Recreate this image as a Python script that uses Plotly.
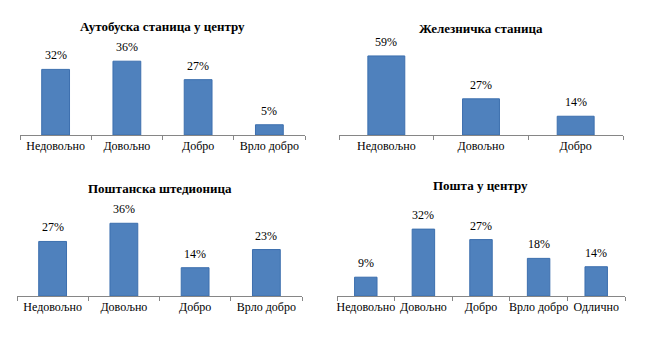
import plotly.graph_objects as go

W, H = 650, 355

titles = ["Аутобуска станица у центру", "Железничка станица", "Поштанска штедионица", "Пошта у центру"]
cats1 = ["Недовољно", "Довољно", "Добро", "Врло добро"]
vals1 = [32, 36, 27, 5]
cats2 = ["Недовољно", "Довољно", "Добро"]
vals2 = [59, 27, 14]
cats3 = ["Недовољно", "Довољно", "Добро", "Врло добро"]
vals3 = [27, 36, 14, 23]
cats4 = ["Недовољно", "Довољно", "Добро", "Врло добро", "Одлично"]
vals4 = [9, 32, 27, 18, 14]

panels = [
    # (cats, vals, x0px, x1px, axis_y_px, px_per_pct, ymax, title_x, title_y)
    (cats1, vals1, 20, 305, 135, 2.05, 40, 162, 26),
    (cats2, vals2, 339, 623, 135, 1.34, 70, 481, 28),
    (cats3, vals3, 17, 302, 296, 2.02, 40, 160, 189),
    (cats4, vals4, 337, 625, 296, 2.09, 35, 480, 185),
]

FONT = "Liberation Serif"
fig = go.Figure()
annotations = []
for i, (cats, vals, x0, x1, ay, sc, ymax, tx, ty) in enumerate(panels):
    n = i + 1
    xa = "x" if n == 1 else f"x{n}"
    ya = "y" if n == 1 else f"y{n}"
    fig.add_trace(go.Bar(
        x=cats, y=vals, xaxis=xa, yaxis=ya,
        marker=dict(color="#4F81BD", line=dict(color="#3C6FAE", width=1)),
        width=0.39, showlegend=False, hoverinfo="skip",
    ))
    top_px = ay - ymax * sc
    xkey = "xaxis" if n == 1 else f"xaxis{n}"
    ykey = "yaxis" if n == 1 else f"yaxis{n}"
    fig.update_layout(**{
        xkey: dict(domain=[x0 / W, x1 / W], anchor=ya, type="category",
                   showline=True, linecolor="#868686", linewidth=1,
                   ticks="outside", tickson="boundaries", ticklen=4, tickcolor="#868686",
                   showgrid=False, zeroline=False, automargin=False, tickangle=0,
                   tickfont=dict(family=FONT, size=12, color="#000000"), fixedrange=True),
        ykey: dict(domain=[1 - ay / H, 1 - top_px / H], anchor=xa, range=[0, ymax],
                   visible=False, showgrid=False, zeroline=False, automargin=False,
                   fixedrange=True),
    })
    for c, v in zip(cats, vals):
        annotations.append(dict(x=c, y=v, xref=xa, yref=ya, text=f"{v}%", showarrow=False,
                                yanchor="bottom", yshift=5,
                                font=dict(family=FONT, size=12, color="#000000")))
    annotations.append(dict(x=tx / W, y=1 - ty / H, xref="paper", yref="paper",
                            text=f"<b>{titles[i]}</b>", showarrow=False,
                            xanchor="center", yanchor="middle",
                            font=dict(family=FONT, size=13, color="#000000")))

fig.update_layout(width=W, height=H, margin=dict(l=0, r=0, t=0, b=0, autoexpand=False),
                  paper_bgcolor="white", plot_bgcolor="white",
                  font=dict(family=FONT),
                  annotations=annotations, bargap=0.6)
fig.write_html("out.html", config={"displayModeBar": False},
               post_script="document.body.style.margin='0';")
